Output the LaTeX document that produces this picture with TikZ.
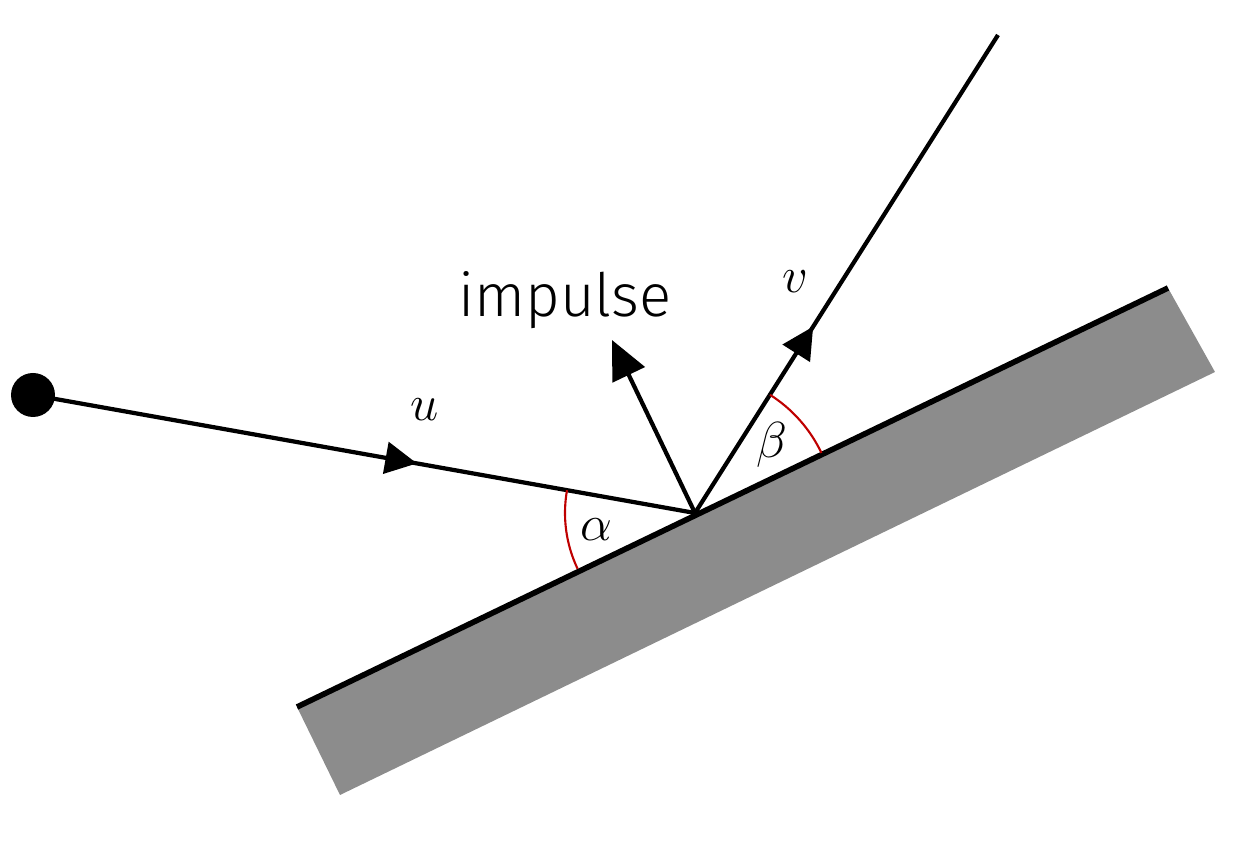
\documentclass[tikz,border=0pt]{standalone}
\usepackage{fontspec}
\newfontfamily\labelfont{Fira Sans Light}
\usetikzlibrary{arrows.meta,decorations.markings}
\tikzset{
  ray/.style={line width=1.2pt},
  midarrow/.style={postaction={decorate},decoration={markings,
      mark=at position #1 with {\arrow{Triangle[length=9pt,width=9pt]}}}},
  anglearc/.style={red!75!black,line width=0.6pt}
}
\begin{document}
\begin{tikzpicture}[x=0.01cm,y=-0.01cm]
          \useasboundingbox (0,0) rectangle (1253,855);
          
          % Inclined plane
          \fill[black!45] (297,707) -- (1168,288) -- (1215,372) -- (340,795) -- cycle;
          \draw[line width=1.6pt] (297,707) -- (1168,288);
          
          % Impact point, ball and ends
          \coordinate (P) at (695,513);
          \coordinate (vend) at (998,35);
          \coordinate (imp) at (612,340);
          \fill (33,395) circle (22) coordinate (ball);
          
          % Velocities and impulse
          \draw[ray, midarrow=0.58] (ball) -- (P);
          \draw[ray, midarrow=0.39] (P) -- (vend);
          \draw[ray, -{Triangle[length=11pt,width=10pt]}] (P) -- (imp);
          
          % Angles
          \draw[anglearc] (P) ++(-205.4:130) arc[start angle=-205.4, end angle=-169.9, radius=130];
          \draw[anglearc] (P) ++(-25.4:140) arc[start angle=-25.4, end angle=-57.6, radius=140];
          
          \node at (425,410) {\Large $u$};
          \node at (795,282) {\Large $v$};
          \node at (565,300) {\labelfont\fontsize{17}{20}\selectfont impulse};
          \node at (596,530) {\Large $\alpha$};
          \node at (772,445) {\Large $\beta$};
        \end{tikzpicture}
\end{document}
